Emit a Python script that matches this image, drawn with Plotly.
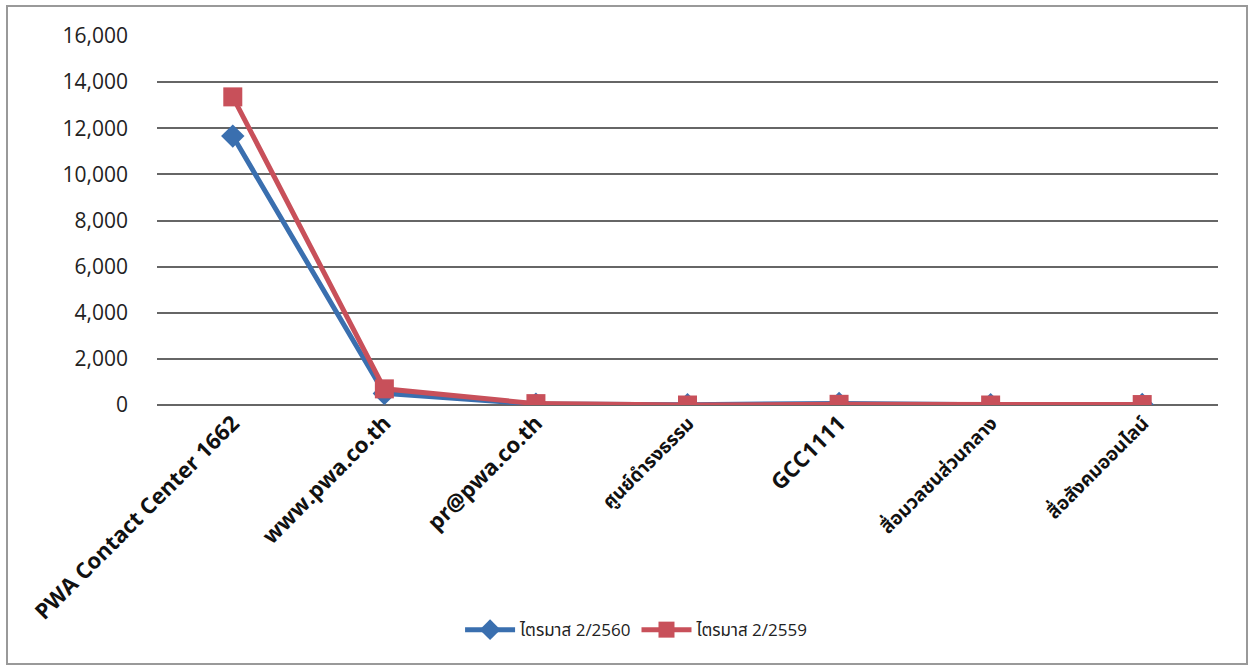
import plotly.graph_objects as go

categories = ["PWA Contact Center 1662", "www.pwa.co.th", "pr@pwa.co.th",
              "ศูนย์ดำรงธรรม", "GCC1111", "สื่อมวลชนส่วนกลาง", "สื่อสังคมออนไลน์"]
thai_cats = {"ศูนย์ดำรงธรรม", "สื่อมวลชนส่วนกลาง", "สื่อสังคมออนไลน์"}
q2_2560 = [11660, 500, 40, 10, 70, 10, 20]
q2_2559 = [13360, 700, 60, 0, 30, 0, 20]
series_names = ["ไตรมาส 2/2560", "ไตรมาส 2/2559"]
y_ticks = [0, 2000, 4000, 6000, 8000, 10000, 12000, 14000, 16000]

ticktext = []
for c in categories:
    if c in thai_cats:
        ticktext.append(f"<span style='font-size:19px'><b>{c}</b></span>")
    else:
        ticktext.append(f"<b>{c}</b>")

fig = go.Figure()
fig.add_trace(go.Scatter(x=categories, y=q2_2560, name=series_names[0], mode="lines+markers",
                         line=dict(color="#3A6FAF", width=5),
                         marker=dict(symbol="diamond", size=18, color="#3A6FAF")))
fig.add_trace(go.Scatter(x=categories, y=q2_2559, name=series_names[1], mode="lines+markers",
                         line=dict(color="#C8505A", width=5),
                         marker=dict(symbol="square", size=19, color="#C8505A")))

fig.update_layout(
    width=1251, height=668,
    margin=dict(l=157, r=33, t=36, b=263),
    paper_bgcolor="white", plot_bgcolor="white",
    font=dict(family="Open Sans, Noto Sans, Noto Sans Thai, sans-serif", color="#111"),
    showlegend=True,
    legend=dict(orientation="h", x=0.452, xanchor="center", y=-0.61, yanchor="middle",
                font=dict(size=17, color="#222"), itemwidth=50),
    xaxis=dict(type="category", tickvals=categories, ticktext=ticktext, tickangle=-45,
               tickfont=dict(size=22, color="#111"), showgrid=False, showline=False,
               ticks="", range=[-0.5, 6.5]),
    yaxis=dict(range=[0, 16000], tickvals=y_ticks, tickformat=",d",
               tickfont=dict(size=21, color="#222"), showgrid=True,
               gridcolor="#666", gridwidth=2, zeroline=True, zerolinecolor="#666",
               zerolinewidth=2, ticks="", ticklabelstandoff=28),
    shapes=[dict(type="rect", xref="paper", yref="paper",
                 x0=(7 - 157) / 1061, x1=(1247 - 157) / 1061,
                 y0=(405 - 664) / 369, y1=(405 - 6) / 369,
                 line=dict(color="#999", width=2), layer="below")],
)

fig.write_html("out.html")
